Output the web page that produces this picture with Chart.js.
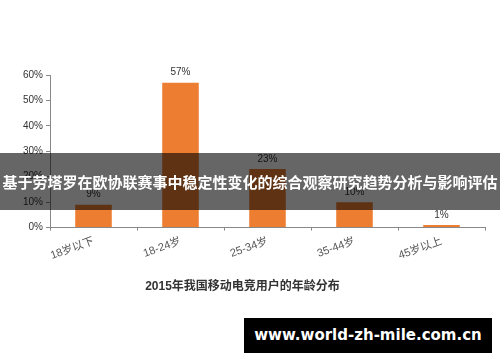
<!DOCTYPE html>
<html>
<head>
<meta charset="utf-8">
<script src="https://cdn.jsdelivr.net/npm/chart.js@4/dist/chart.umd.min.js"></script>
<style>
	html, body { margin: 0; padding: 0; background: #fff; }
	#wrap { position: relative; width: 500px; height: 362px; overflow: hidden; }
	#band {
		position: absolute; left: 0; top: 153px; width: 500px; height: 57px;
		background: rgba( 0, 0, 0, 0.6 ); color: #fff;
		font: bold 15px "Noto Sans CJK SC", sans-serif;
		line-height: 57px; text-align: center; white-space: nowrap;
	}
	#mark {
		position: absolute; left: 244px; top: 318px; width: 248px; height: 35px;
		background: #000; color: #fff;
		font: bold 15px "DejaVu Sans", sans-serif;
		line-height: 35px; text-align: center;
	}
</style>
</head>
<body>
<div id="wrap">
	<canvas id="js_chart_canvas" width="500" height="362"></canvas>
	<div id="band">基于劳塔罗在欧协联赛事中稳定性变化的综合观察研究趋势分析与影响评估</div>
	<div id="mark">www.world-zh-mile.com.cn</div>
</div>
<script>

// Age groups and share of users (%)
let ageGroups = [ "18岁以下", "18-24岁", "25-34岁", "35-44岁", "45岁以上" ]
let userShare = [ 9, 57, 23, 10, 1 ]
let yTicks = [ 0, 10, 20, 30, 40, 50, 60 ]
let chartTitle = "2015年我国移动电竞用户的年龄分布"

let baseFont = "\"Liberation Sans\", \"Noto Sans CJK SC\", sans-serif"

// Value labels above each bar
let barLabels = {
	id: "barLabels",
	afterDatasetsDraw ( chart ) {
		let ctx = chart.ctx
		let meta = chart.getDatasetMeta( 0 )
		ctx.save()
		ctx.font = "10px " + baseFont
		ctx.fillStyle = "#333"
		ctx.textAlign = "center"
		ctx.textBaseline = "bottom"
		meta.data.forEach( function ( bar, i ) {
			ctx.fillText( userShare[ i ] + "%", bar.x, bar.y - 5 )
		} )
		ctx.restore()
	}
}

let canvasElement = document.getElementById( "js_chart_canvas" )

let chart = new Chart( canvasElement, {
	type: "bar",
	data: {
		labels: ageGroups,
		datasets: [ {
			data: userShare,
			backgroundColor: "#ED7D31",
			categoryPercentage: 0.84,
			barPercentage: 0.5
		} ]
	},
	options: {
		responsive: false,
		animation: false,
		layout: { padding: { left: 0, right: 15, top: 75, bottom: 68 } },
		scales: {
			y: {
				min: 0,
				max: 60,
				afterFit ( scale ) { scale.width = 50 },
				afterBuildTicks ( scale ) { scale.ticks = yTicks.map( v => ( { value: v } ) ) },
				border: { display: true, color: "#888", width: 1 },
				grid: { drawOnChartArea: false, drawTicks: true, tickLength: 4, color: "#888" },
				ticks: {
					color: "#333",
					padding: 3,
					font: { size: 10, family: baseFont },
					callback: v => v + "%"
				}
			},
			x: {
				afterFit ( scale ) { scale.height = 40 },
				border: { display: true, color: "#888", width: 1 },
				grid: { drawOnChartArea: false, drawTicks: true, tickLength: 3, color: "#888", offset: true },
				ticks: {
					color: "#555",
					minRotation: 20,
					maxRotation: 20,
					padding: 4,
					font: { size: 11, family: baseFont }
				}
			}
		},
		plugins: {
			legend: { display: false },
			tooltip: { enabled: false },
			title: {
				display: true,
				position: "bottom",
				text: chartTitle,
				color: "#333",
				font: { size: 12, weight: "bold", family: baseFont },
				padding: { top: 12, bottom: 0 }
			}
		}
	},
	plugins: [ barLabels ]
} )

</script>
</body>
</html>
